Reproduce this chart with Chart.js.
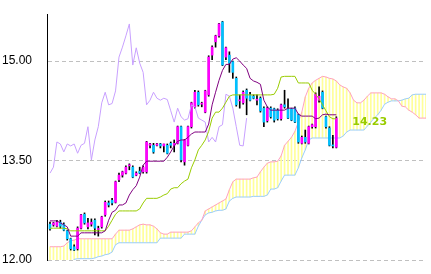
<!DOCTYPE html>
<html>
<head>
<meta charset="utf-8">
<script src="https://cdn.jsdelivr.net/npm/chart.js@4.4.1/dist/chart.umd.min.js"></script>
<style>
  html, body { margin: 0; padding: 0; background: #fff; }
  canvas { display: block; }
</style>
</head>
<body>
<canvas id="ichimokuChart" width="431" height="274"></canvas>
<script>
// candles, one per session
const openP = [
  12.54, 12.53, 12.51, 12.57, 12.54, 12.44, 12.32, 12.20, 12.17, 12.48,
  12.69, 12.50, 12.54, 12.60, 12.46, 12.50, 12.68, 12.86, 12.90, 12.87,
  13.21, 13.28, 13.31, 13.42, 13.40, 13.28, 13.34, 13.33, 13.33, 13.73,
  13.73, 13.73, 13.75, 13.72, 13.73, 13.76, 13.73, 13.76, 14.01, 13.48,
  13.73, 14.01, 14.31, 14.53, 14.35, 14.23, 14.49, 15.09, 15.29, 15.38,
  15.59, 15.06, 15.09, 14.99, 14.74, 14.40, 14.37, 14.56, 14.49, 14.47,
  14.41, 14.44, 14.29, 14.10, 14.29, 14.28, 14.26, 14.13, 14.34, 14.28,
  14.28, 14.29, 14.19, 13.76, 13.85, 13.76, 14.01, 14.01, 14.41, 14.53,
  14.16, 13.99, 13.73, 13.70
];
const highP = [
  12.57, 12.57, 12.60, 12.60, 12.56, 12.45, 12.33, 12.23, 12.50, 12.69,
  12.71, 12.63, 12.62, 12.62, 12.51, 12.66, 12.89, 12.89, 12.93, 13.19,
  13.31, 13.34, 13.42, 13.45, 13.42, 13.33, 13.40, 13.42, 13.79, 13.76,
  13.76, 13.76, 13.76, 13.75, 13.75, 13.78, 13.81, 14.02, 14.02, 13.82,
  14.02, 14.38, 14.56, 14.55, 14.38, 14.56, 15.08, 15.23, 15.39, 15.57,
  15.60, 15.21, 15.14, 15.00, 14.76, 14.49, 14.55, 14.58, 14.53, 14.49,
  14.49, 14.46, 14.31, 14.31, 14.31, 14.29, 14.28, 14.35, 14.56, 14.43,
  14.29, 14.31, 14.20, 13.87, 13.96, 14.02, 14.05, 14.52, 14.61, 14.55,
  14.17, 14.01, 13.88, 14.16
];
const lowP = [
  12.45, 12.51, 12.50, 12.48, 12.44, 12.30, 12.15, 12.14, 12.15, 12.47,
  12.54, 12.47, 12.51, 12.38, 12.36, 12.48, 12.66, 12.80, 12.83, 12.86,
  13.18, 13.25, 13.30, 13.36, 13.24, 13.27, 13.30, 13.31, 13.31, 13.69,
  13.61, 13.72, 13.69, 13.63, 13.60, 13.69, 13.63, 13.75, 13.48, 13.43,
  13.72, 13.99, 14.29, 14.32, 14.31, 14.22, 14.47, 15.02, 15.21, 15.36,
  14.93, 15.02, 14.83, 14.74, 14.32, 14.29, 14.35, 14.19, 14.40, 14.43,
  14.34, 14.23, 14.01, 14.08, 14.14, 14.08, 14.11, 14.11, 14.29, 14.13,
  14.10, 14.07, 13.76, 13.75, 13.76, 13.75, 13.99, 13.99, 14.38, 14.28,
  13.99, 13.72, 13.69, 13.69
];
const closeP = [
  12.47, 12.56, 12.57, 12.51, 12.45, 12.32, 12.17, 12.15, 12.48, 12.68,
  12.56, 12.56, 12.57, 12.48, 12.47, 12.65, 12.87, 12.83, 12.86, 13.18,
  13.28, 13.33, 13.40, 13.43, 13.25, 13.31, 13.31, 13.40, 13.78, 13.75,
  13.63, 13.75, 13.72, 13.75, 13.61, 13.73, 13.76, 14.01, 13.51, 13.81,
  14.01, 14.37, 14.53, 14.34, 14.36, 14.55, 15.06, 15.21, 15.38, 15.56,
  14.94, 15.20, 14.97, 14.83, 14.34, 14.41, 14.53, 14.44, 14.41, 14.44,
  14.42, 14.25, 14.08, 14.29, 14.16, 14.11, 14.13, 14.34, 14.31, 14.14,
  14.11, 14.08, 13.78, 13.85, 13.78, 14.01, 14.04, 14.50, 14.47, 14.29,
  14.01, 13.73, 13.72, 14.14
];

// conversion line and base line
const tenkan = [
  12.59, 12.59, 12.59, 12.56, 12.53, 12.50, 12.36, 12.36, 12.36, 12.41,
  12.41, 12.41, 12.41, 12.41, 12.41, 12.41, 12.44, 12.60, 12.72, 12.75,
  12.83, 12.83, 12.86, 12.98, 13.06, 13.12, 13.25, 13.43, 13.49, 13.49,
  13.49, 13.49, 13.49, 13.49, 13.55, 13.63, 13.72, 13.79, 13.81, 13.81,
  13.85, 13.90, 13.93, 13.93, 13.93, 13.93, 14.05, 14.34, 14.53, 14.71,
  14.86, 14.95, 14.95, 15.03, 15.05, 15.00, 14.94, 14.89, 14.74, 14.70,
  14.68, 14.65, 14.41, 14.31, 14.26, 14.26, 14.26, 14.26, 14.26, 14.29,
  14.29, 14.29, 14.20, 14.17, 14.17, 14.17, 14.17, 14.13, 14.14, 14.19,
  14.20, 14.19, 14.19, 14.19
];
const kijun = [
  12.48, 12.48, 12.48, 12.48, 12.48, 12.47, 12.44, 12.44, 12.44, 12.44,
  12.44, 12.44, 12.44, 12.44, 12.44, 12.44, 12.44, 12.51, 12.60, 12.69,
  12.74, 12.74, 12.74, 12.74, 12.74, 12.74, 12.77, 12.86, 12.93, 12.93,
  12.93, 12.93, 12.95, 12.98, 13.00, 13.07, 13.09, 13.09, 13.15, 13.19,
  13.22, 13.39, 13.51, 13.66, 13.73, 13.81, 13.94, 14.14, 14.23, 14.23,
  14.29, 14.38, 14.47, 14.49, 14.49, 14.49, 14.49, 14.49, 14.49, 14.49,
  14.49, 14.49, 14.49, 14.49, 14.49, 14.50, 14.59, 14.76, 14.77, 14.77,
  14.77, 14.77, 14.67, 14.67, 14.67, 14.67, 14.56, 14.50, 14.43, 14.34,
  14.25, 14.16, 14.13, 14.13
];

// leading spans, already shifted 26 sessions ahead
const spanA = [
  12.20, 12.20, 12.20, 12.20, 12.21, 12.26, 12.29, 12.30, 12.32, 12.32,
  12.32, 12.32, 12.32, 12.32, 12.32, 12.32, 12.32, 12.32, 12.32, 12.39,
  12.45, 12.45, 12.45, 12.45, 12.47, 12.50, 12.53, 12.54, 12.53, 12.53,
  12.51, 12.47, 12.41, 12.39, 12.39, 12.42, 12.42, 12.42, 12.42, 12.42,
  12.42, 12.44, 12.50, 12.56, 12.60, 12.74, 12.77, 12.80, 12.83, 12.86,
  12.89, 12.92, 13.06, 13.18, 13.22, 13.22, 13.22, 13.22, 13.22, 13.24,
  13.25, 13.33, 13.40, 13.46, 13.48, 13.48, 13.49, 13.57, 13.73, 13.79,
  13.85, 13.94, 14.08, 14.23, 14.46, 14.59, 14.67, 14.71, 14.74, 14.77,
  14.76, 14.74, 14.73, 14.70, 14.64, 14.61, 14.59, 14.52, 14.41, 14.37,
  14.37, 14.41, 14.47, 14.52, 14.52, 14.52, 14.52, 14.50, 14.46, 14.43,
  14.43, 14.40, 14.32, 14.31, 14.26, 14.23, 14.19, 14.14, 14.14, 14.14
];
const spanB = [
  11.94, 11.94, 11.94, 11.94, 11.94, 11.94, 11.94, 12.01, 12.02, 12.02,
  12.02, 12.02, 12.02, 12.03, 12.05, 12.06, 12.08, 12.09, 12.12, 12.23,
  12.26, 12.26, 12.26, 12.26, 12.26, 12.26, 12.26, 12.26, 12.26, 12.26,
  12.26, 12.26, 12.33, 12.33, 12.33, 12.33, 12.33, 12.33, 12.33, 12.39,
  12.39, 12.39, 12.39, 12.51, 12.60, 12.68, 12.71, 12.72, 12.74, 12.75,
  12.75, 12.77, 12.89, 12.93, 12.95, 12.95, 12.95, 12.95, 12.95, 12.96,
  12.96, 12.96, 12.96, 12.98, 13.07, 13.07, 13.09, 13.19, 13.28, 13.28,
  13.28, 13.28, 13.39, 13.54, 13.66, 13.81, 13.84, 13.84, 13.84, 13.84,
  13.84, 13.84, 13.84, 13.84, 13.84, 13.87, 13.93, 13.96, 13.96, 13.96,
  13.96, 13.96, 14.02, 14.08, 14.14, 14.19, 14.26, 14.35, 14.38, 14.40,
  14.40, 14.40, 14.41, 14.43, 14.44, 14.49, 14.50, 14.50, 14.50, 14.50
];

const yTicks = [12.00, 13.50, 15.00];
const lagShift = 26;     // lagging span = close drawn 26 sessions back
const lastLabel = '14.23';

const UP = '#ff00ff';
const DOWN = '#00c0ff';

// text next to the last candle
const lastValueLabel = {
  id: 'lastValueLabel',
  afterDatasetsDraw(chart) {
    const { ctx, scales } = chart;
    const last = closeP.length - 1;
    const x = scales.x.getPixelForValue(last) + 16;
    const y = scales.y.getPixelForValue(kijun[last]) + 3;
    ctx.save();
    ctx.font = 'bold 11px "DejaVu Sans", sans-serif';
    ctx.fillStyle = '#99cc00';
    ctx.textBaseline = 'middle';
    ctx.fillText(lastLabel, x, y);
    ctx.restore();
  }
};

const lineSet = (label, values, color, order) => ({
  type: 'line',
  label: label,
  data: values.map((v, i) => ({ x: i, y: v })),
  borderColor: color,
  borderWidth: 1,
  pointRadius: 0,
  tension: 0,
  fill: false,
  order: order
});

const ctx = document.getElementById('ichimokuChart');
new Chart(ctx, {
  type: 'bar',
  data: {
    datasets: [
      lineSet('Tenkan', tenkan, '#800080', 0),
      lineSet('Kijun', kijun, '#99cc00', 1),
      lineSet('Chikou', closeP.slice(lagShift), '#c8a0ff', 2),
      {
        label: 'Body',
        data: openP.map((o, i) => ({ x: i, y: [o, closeP[i]] })),
        backgroundColor: openP.map((o, i) => closeP[i] >= o ? UP : DOWN),
        barThickness: 2,
        minBarLength: 1,
        grouped: false,
        order: 3
      },
      {
        label: 'Wick',
        data: lowP.map((l, i) => ({ x: i, y: [l, highP[i]] })),
        backgroundColor: '#000000',
        barThickness: 1,
        grouped: false,
        order: 4
      },
      lineSet('Span A', spanA, '#ffa0c0', 5),
      lineSet('Span B', spanB, '#99ccff', 6),
      {
        label: 'Cloud',
        data: spanA.map((a, i) => ({ x: i, y: [spanB[i], a] })),
        backgroundColor: '#ffff99',
        barThickness: 1,
        grouped: false,
        order: 7
      }
    ]
  },
  options: {
    responsive: false,
    animation: false,
    events: [],
    devicePixelRatio: 1,
    layout: { padding: { left: 0, right: 5, top: 14, bottom: 14 } },
    plugins: { legend: { display: false }, tooltip: { enabled: false } },
    scales: {
      x: {
        type: 'linear',
        min: -0.87,
        max: 109,
        offset: false,
        display: false
      },
      y: {
        min: 12,
        max: 15.71,
        afterFit: s => {
          s.width = 47;
          s.paddingTop = 0;
          s.paddingBottom = 0;
        },
        afterBuildTicks: s => { s.ticks = yTicks.map(v => ({ value: v })); },
        ticks: {
          color: '#000',
          padding: 15,
          font: { family: '"Liberation Sans Narrow", "Liberation Sans", sans-serif', size: 12 },
          callback: v => Number(v).toFixed(2)
        },
        grid: { color: '#c0c0c0', drawTicks: false, lineWidth: 1 },
        border: { display: true, color: '#000', width: 1, dash: [4, 3] }
      }
    }
  },
  plugins: [lastValueLabel]
});
</script>
</body>
</html>
